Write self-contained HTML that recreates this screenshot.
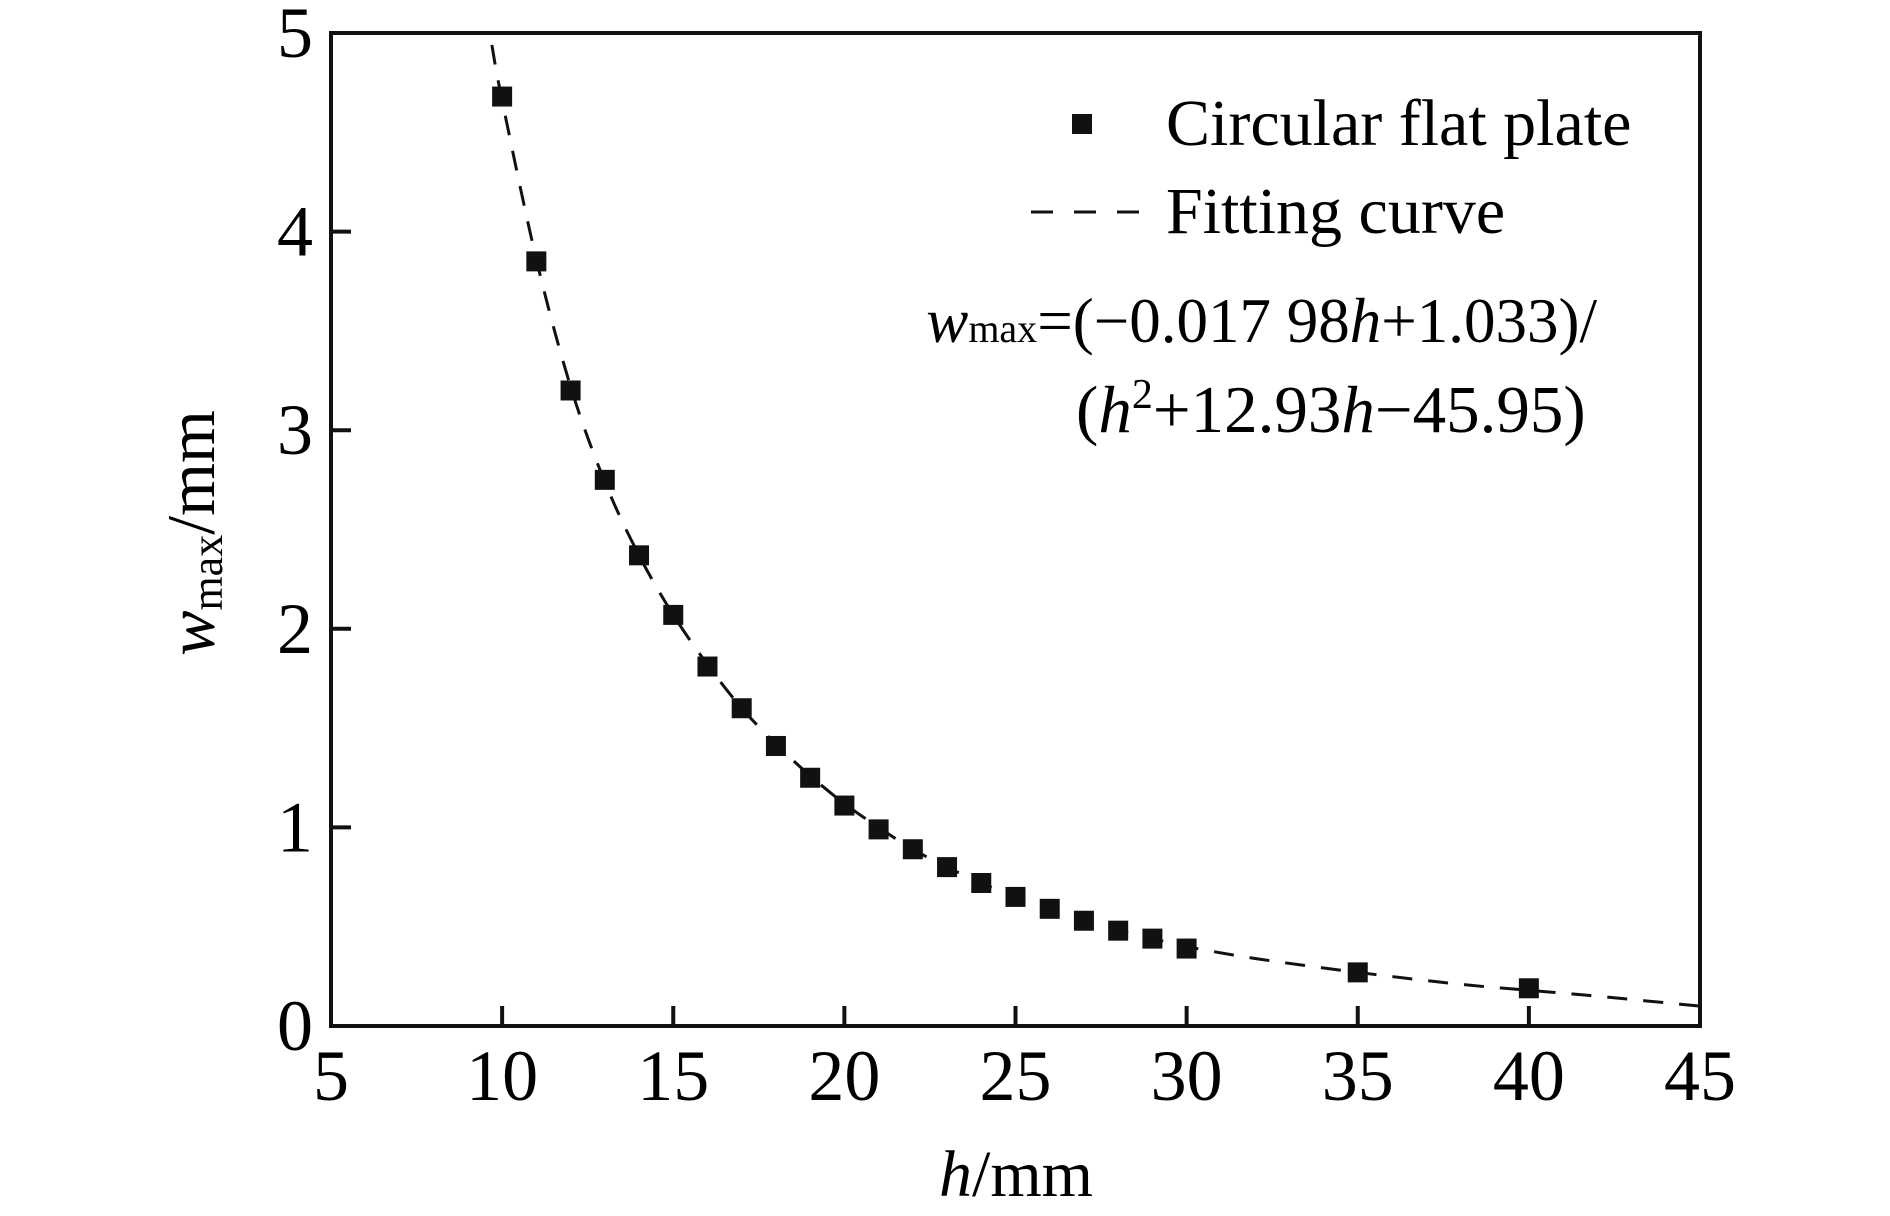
<!DOCTYPE html>
<html><head><meta charset="utf-8"><style>
html,body{margin:0;padding:0;background:#fff;}
svg{display:block;font-family:"Liberation Serif",serif;}
</style></head><body>
<svg id="chart" width="1890" height="1216" viewBox="0 0 1890 1216" xmlns="http://www.w3.org/2000/svg">
<g id="plot"></g>
<g>
  <rect x="1072" y="114" width="20" height="20" fill="#111"/>
  <text x="1166" y="145" font-size="66">Circular flat plate</text>
  <line x1="1031" y1="212" x2="1140" y2="212" stroke="#111" stroke-width="3" stroke-dasharray="22,21"/>
  <text x="1166" y="233" font-size="66">Fitting curve</text>
</g>
<g font-size="66">
  <text x="1597" y="342" text-anchor="end" font-size="63"><tspan font-style="italic">w</tspan><tspan font-size="40">max</tspan>=(−0.017 98<tspan font-style="italic">h</tspan>+1.033)/</text>
  <text x="1076" y="432" font-size="67">(<tspan font-style="italic">h</tspan><tspan font-size="42" dy="-24">2</tspan><tspan dy="24">+12.93</tspan><tspan font-style="italic">h</tspan>−45.95)</text>
</g>
<text x="1016" y="1196" font-size="66" text-anchor="middle"><tspan font-style="italic">h</tspan>/mm</text>
<text transform="translate(214,533) rotate(-90)" font-size="68" text-anchor="middle"><tspan font-style="italic">w</tspan><tspan font-size="44" dy="8">max</tspan><tspan dy="-8">/mm</tspan></text>
</svg>
<script>
const xTicks = [5,10,15,20,25,30,35,40,45];
const yTicks = [0,1,2,3,4,5];
const hValues = [10,11,12,13,14,15,16,17,18,19,20,21,22,23,24,25,26,27,28,29,30,35,40];
const wValues = [4.68,3.85,3.20,2.75,2.37,2.07,1.81,1.60,1.41,1.25,1.11,0.99,0.89,0.80,0.72,0.65,0.59,0.53,0.48,0.44,0.39,0.27,0.19];
const fitH = [9.7,10,11,12,13,14,15,16,17,18,19,20,21,22,23,24,25,26,27,28,29,30,32,35,38,40,42,45];
const fitW = [4.94,4.66,3.86,3.22,2.74,2.37,2.07,1.82,1.60,1.42,1.26,1.12,1.00,0.89,0.80,0.72,0.65,0.59,0.53,0.48,0.44,0.40,0.34,0.27,0.21,0.18,0.15,0.10];

const L=331,R=1700,T=33,B=1026;
const sx=v=>L+(v-5)/40*(R-L);
const sy=v=>B-v/5*(B-T);
const NS='http://www.w3.org/2000/svg';
const g=document.getElementById('plot');
function mk(tag,attrs){const e=document.createElementNS(NS,tag);for(const k in attrs)e.setAttribute(k,attrs[k]);g.appendChild(e);return e;}

const pts=fitH.map((h,i)=>[sx(h),sy(fitW[i])]);
let d='M'+pts[0][0]+','+pts[0][1];
for(let i=0;i<pts.length-1;i++){
  const p0=pts[Math.max(0,i-1)],p1=pts[i],p2=pts[i+1],p3=pts[Math.min(pts.length-1,i+2)];
  const c1=[p1[0]+(p2[0]-p0[0])/6,p1[1]+(p2[1]-p0[1])/6];
  const c2=[p2[0]-(p3[0]-p1[0])/6,p2[1]-(p3[1]-p1[1])/6];
  d+=` C${c1[0]},${c1[1]} ${c2[0]},${c2[1]} ${p2[0]},${p2[1]}`;
}
const curve=mk('path',{d:d,fill:'none',stroke:'#111','stroke-width':3,'stroke-dasharray':'20,16'});



hValues.forEach((h,i)=>{
  const r=mk('rect',{x:sx(h)-10,y:sy(wValues[i])-10,width:20,height:20,fill:'#111'});
  
  
});

const frame=mk('rect',{x:L,y:T,width:R-L,height:B-T,fill:'none',stroke:'#111','stroke-width':4});



xTicks.forEach(v=>{
  const t=mk('line',{x1:sx(v),x2:sx(v),y1:B,y2:B-20,stroke:'#111','stroke-width':4});
  
  
  const lb=mk('text',{x:sx(v),y:1100,'font-size':72,'text-anchor':'middle'});
  lb.textContent=v;
  
  
});
yTicks.forEach(v=>{
  const t=mk('line',{x1:L,x2:L+20,y1:sy(v),y2:sy(v),stroke:'#111','stroke-width':4});
  
  
  const lb=mk('text',{x:313,y:sy(v)+24,'font-size':72,'text-anchor':'end'});
  lb.textContent=v;
  
  
});
</script>
</body></html>
